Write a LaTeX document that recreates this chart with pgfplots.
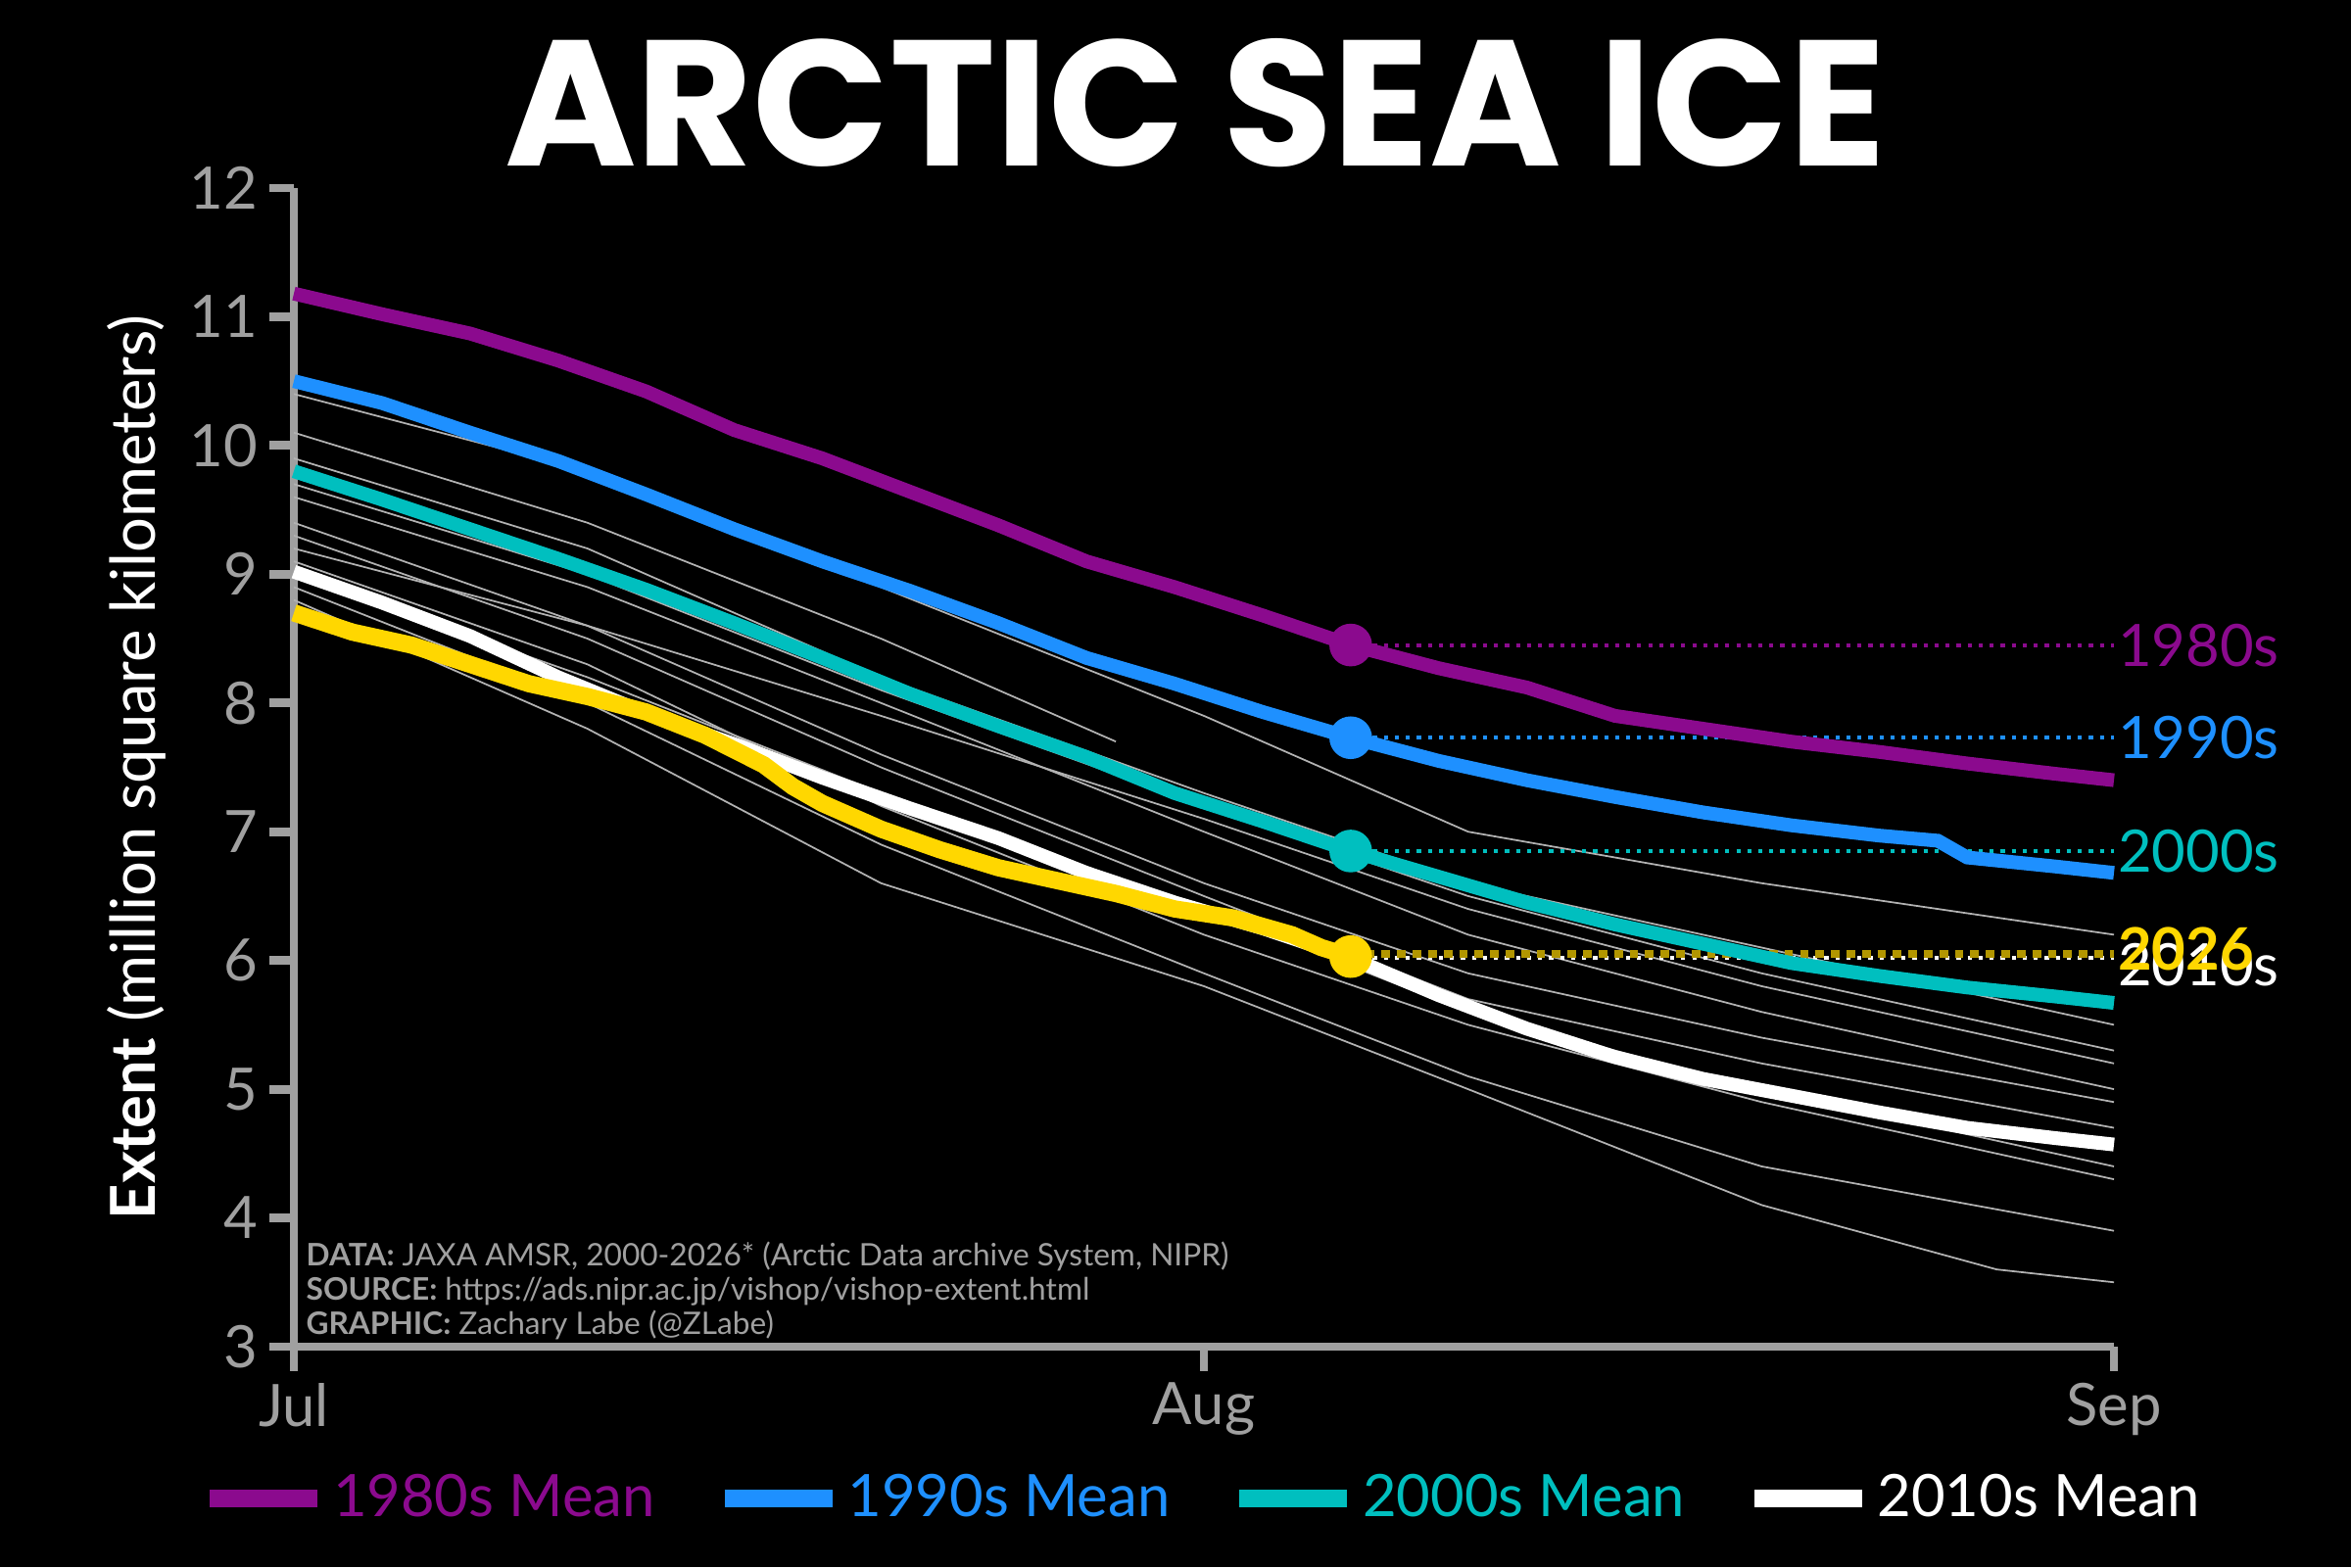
\documentclass[border=0pt]{standalone}
\usepackage{pgfplots}
\pgfplotsset{compat=1.18}
\usepackage{fontspec}
\setmainfont{Lato}
\newfontfamily\titlefont{Poppins}
\definecolor{c80}{HTML}{8B0A8E}
\definecolor{c90}{HTML}{1E90FF}
\definecolor{c00}{HTML}{00BFBF}
\definecolor{c26}{HTML}{FFD700}
\definecolor{tk}{HTML}{A0A0A0}
\tikzset{lab/.style={anchor=west,font=\fontsize{17}{17}\selectfont,inner sep=1pt}}
\begin{document}
\begin{tikzpicture}
\fill[black] (0,0) rectangle (24cm,16cm);
\useasboundingbox (0,0) rectangle (24cm,16cm);
\node[white,font=\titlefont\bfseries\fontsize{52}{52}\selectfont] at (12.2cm,14.95cm) {ARCTIC SEA ICE};
\begin{axis}[at={(3cm,2.25cm)},anchor=south west,scale only axis,width=18.58cm,height=11.83cm,
 xmin=0,xmax=62,ymin=3,ymax=12,clip=false,
 axis lines=left,axis line style={tk,line width=2.5pt,-},
 every tick/.style={tk,line width=2.5pt},tick align=outside,major tick length=7pt,
 xtick={0,31,62},xticklabels={Jul,Aug,Sep},ytick={3,...,12},
 tick label style={tk,font=\fontsize{17}{17}\selectfont},
 /pgf/number format/assume math mode=true,
 ylabel={\textbf{Extent} (million square kilometers)},
 ylabel style={white,font=\fontsize{18}{18}\selectfont},
 legend style={at={(0.5,-0.131)},anchor=center,draw=none,fill=black,legend columns=4,
   font=\fontsize{17}{17}\selectfont,/tikz/every even column/.append style={column sep=0.55cm}},
 legend image code/.code={\draw[#1,line width=5pt] (0cm,0cm) -- (1.1cm,0cm);}]
\pgfplotsset{gy/.style={gray!60,line width=0.5pt,forget plot}}
\addplot[gy] coordinates {(0,10.4)(10,9.8)(20,8.9)(31,7.9)(40,7.0)(50,6.6)(62,6.2)};
\addplot[gy] coordinates {(0,10.1)(10,9.4)(20,8.5)(28,7.7)};
\addplot[gy] coordinates {(0,9.9)(10,9.2)(20,8.2)(31,7.3)(40,6.6)(50,6.1)(62,5.5)};
\addplot[gy] coordinates {(0,9.6)(10,8.9)(20,8.0)(31,7.0)(40,6.2)(50,5.6)(62,5.0)};
\addplot[gy] coordinates {(0,9.4)(10,8.6)(20,7.6)(31,6.6)(40,5.9)(50,5.4)(62,4.9)};
\addplot[gy] coordinates {(0,9.3)(10,8.5)(20,7.5)(31,6.5)(40,5.7)(50,5.2)(62,4.7)};
\addplot[gy] coordinates {(0,9.1)(10,8.3)(20,7.2)(31,6.2)(40,5.5)(50,4.9)(62,4.3)};
\addplot[gy] coordinates {(0,8.9)(10,8.0)(20,6.9)(31,5.9)(40,5.1)(50,4.4)(62,3.9)};
\addplot[gy] coordinates {(0,8.8)(10,7.8)(20,6.6)(31,5.8)(40,5.0)(50,4.1)(58,3.6)(62,3.5)};
\addplot[gy] coordinates {(0,9.2)(10,8.6)(20,7.9)(31,7.1)(40,6.4)(50,5.8)(62,5.2)};
\addplot[gy] coordinates {(0,9.7)(10,9.0)(20,8.1)(31,7.2)(40,6.5)(50,5.9)(62,5.3)};
\addplot[gy] coordinates {(0,9.0)(10,8.2)(20,7.3)(31,6.4)(40,5.6)(50,5.0)(62,4.4)};
\addplot[c80,dotted,line width=1.2pt,forget plot] coordinates {(36,8.45)(62,8.45)};
\addplot[c90,dotted,line width=1.2pt,forget plot] coordinates {(36,7.73)(62,7.73)};
\addplot[c00,dotted,line width=1.2pt,forget plot] coordinates {(36,6.85)(62,6.85)};
\addplot[white,dotted,line width=1.2pt,forget plot] coordinates {(36,6.02)(62,6.02)};
\addplot[c26!70!black,dotted,line width=2.5pt,forget plot] coordinates {(36,6.05)(62,6.05)};
\addplot[c80,line width=4pt] coordinates {(0,11.18)(3,11.02)(6,10.87)(9,10.66)(12,10.42)(15,10.12)(18,9.9)(21,9.64)(24,9.38)(27,9.1)(30,8.9)(33,8.68)(36,8.45)(39,8.27)(42,8.12)(45,7.9)(48,7.8)(51,7.7)(54,7.62)(57,7.53)(60,7.45)(62,7.4)};
\addlegendentry{\textcolor{c80}{1980s Mean}}
\addplot[c90,line width=4pt] coordinates {(0,10.5)(3,10.33)(6,10.1)(9,9.88)(12,9.62)(15,9.35)(18,9.1)(21,8.87)(24,8.62)(27,8.35)(30,8.15)(33,7.93)(36,7.73)(39,7.55)(42,7.4)(45,7.27)(48,7.15)(51,7.05)(54,6.97)(56,6.93)(57,6.8)(60,6.73)(62,6.68)};
\addlegendentry{\textcolor{c90}{1990s Mean}}
\addplot[c00,line width=4pt] coordinates {(0,9.8)(3,9.58)(6,9.35)(9,9.12)(12,8.88)(15,8.62)(18,8.35)(21,8.07)(24,7.82)(27,7.58)(30,7.3)(33,7.08)(36,6.85)(39,6.65)(42,6.45)(45,6.28)(48,6.13)(51,5.98)(54,5.88)(57,5.79)(60,5.72)(62,5.67)};
\addlegendentry{\textcolor{c00}{2000s Mean}}
\addplot[white,line width=4pt] coordinates {(0,9.02)(3,8.78)(6,8.52)(9,8.2)(12,7.92)(15,7.68)(18,7.42)(21,7.18)(24,6.95)(27,6.68)(30,6.45)(33,6.25)(36,6.02)(39,5.73)(42,5.47)(45,5.25)(48,5.08)(51,4.95)(54,4.82)(57,4.7)(60,4.62)(62,4.57)};
\addlegendentry{\textcolor{white}{2010s Mean}}
\addplot[c26,line width=5pt,forget plot] coordinates {(0,8.7)(2,8.55)(4,8.45)(6,8.3)(8,8.15)(10,8.05)(12,7.93)(14,7.75)(16,7.52)(17,7.35)(18,7.22)(20,7.02)(22,6.86)(24,6.72)(26,6.62)(28,6.52)(30,6.4)(32,6.33)(34,6.2)(35,6.1)(36,6.03)};
\addplot[only marks,mark=*,mark size=6pt,c80,forget plot] coordinates {(36,8.45)};
\addplot[only marks,mark=*,mark size=6pt,c90,forget plot] coordinates {(36,7.73)};
\addplot[only marks,mark=*,mark size=6pt,c00,forget plot] coordinates {(36,6.85)};
\addplot[only marks,mark=*,mark size=6pt,c26,forget plot] coordinates {(36,6.03)};
\node[lab,c80] at (axis cs:62,8.45) {1980s};
\node[lab,c90] at (axis cs:62,7.73) {1990s};
\node[lab,c00] at (axis cs:62,6.85) {2000s};
\node[lab,white] at (axis cs:62,5.97) {2010s};
\node[lab,c26] at (axis cs:62,6.09) {\textbf{2026}};
\node[anchor=south west,tk,align=left,font=\fontsize{9}{10}\selectfont,inner sep=0pt] at (axis cs:0.4,3.05)
 {\textbf{DATA:} JAXA AMSR, 2000-2026* (Arctic Data archive System, NIPR)\\
  \textbf{SOURCE:} https://ads.nipr.ac.jp/vishop/vishop-extent.html\\
  \textbf{GRAPHIC:} Zachary Labe (@ZLabe)};
\end{axis}
\end{tikzpicture}
\end{document}
